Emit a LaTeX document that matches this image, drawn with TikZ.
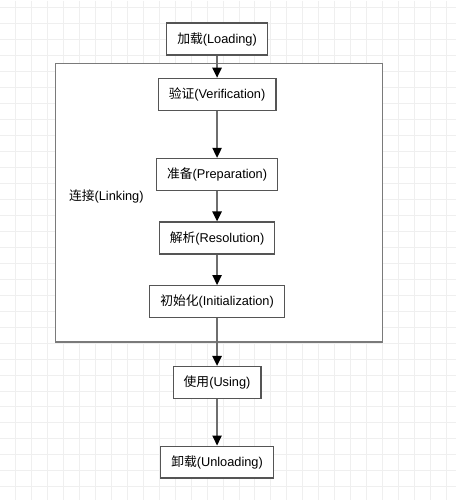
\documentclass[tikz,border=0pt]{standalone}
\usepackage{fontspec}
\setmainfont{Liberation Sans}
\newfontfamily\cjk{Noto Sans CJK SC}
\usetikzlibrary{positioning, arrows.meta}
\definecolor{gridline}{HTML}{EFEFEF}
\definecolor{boxline}{HTML}{555555}
\definecolor{groupline}{HTML}{7A7A7A}
\definecolor{arrowline}{HTML}{6E6E6E}

\begin{document}
\begin{tikzpicture}[
        x=0.75pt, y=-0.75pt,
        font=\fontsize{9.6}{11}\selectfont,
        stage/.style={rectangle, draw=boxline, fill=white, line width=1pt,
                      minimum height=24pt, inner xsep=7.9pt, inner ysep=0pt,
                      text height=8.5pt, text depth=2.5pt, text=black},
        group/.style={rectangle, draw=groupline, fill=white, line width=1.1pt},
        arrow/.style={-{Triangle[length=7.5pt, width=7pt, color=black]}, draw=arrowline,
                      line width=1.1pt}
    ]

        % Background and grid
        \fill [white] (0,0) rectangle (456,500);
        \foreach \gx in {15,31,...,447}
            \draw [gridline, line width=0.75pt] (\gx,0) -- (\gx,500);
        \foreach \gy in {7.3,23.3,...,500}
            \draw [gridline, line width=0.75pt] (0,\gy) -- (456,\gy);
        \useasboundingbox (0,0) rectangle (456,500);

        % Linking group
        \node [group, minimum width=245.8pt, minimum height=209pt] (linking) at (218.85,202.65) {};
        \node [anchor=west] (linklabel) at (64,196.7) {{\cjk 连接}(Linking)};

        % Nodes
        \node [stage] (loading) at (217,38.7) {{\cjk 加载}(Loading)};
        \node [stage, below=16.5pt of loading] (verify) {{\cjk 验证}(Verification)};
        \node [stage, below=35.2pt of verify] (prepare) {{\cjk 准备}(Preparation)};
        \node [stage, below=22.8pt of prepare] (resolve) {{\cjk 解析}(Resolution)};
        \node [stage, below=22.8pt of resolve] (init) {{\cjk 初始化}(Initialization)};
        \node [stage, below=35.8pt of init] (using) {{\cjk 使用}(Using)};
        \node [stage, below=34.8pt of using] (unload) {{\cjk 卸载}(Unloading)};

        % Edges
        \draw [arrow] (loading) -- (verify);
        \draw [arrow] (verify) -- (prepare);
        \draw [arrow] (prepare) -- (resolve);
        \draw [arrow] (resolve) -- (init);
        \draw [arrow] (init) -- (using);
        \draw [arrow] (using) -- (unload);

    \end{tikzpicture}
\end{document}
